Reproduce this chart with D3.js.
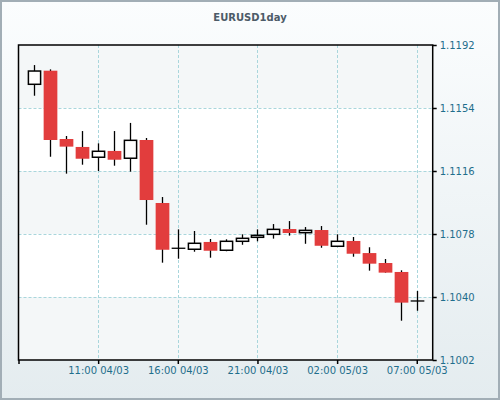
<!DOCTYPE html>
<html><head><meta charset="utf-8">
<script src="https://cdn.jsdelivr.net/npm/d3@7"></script>
<style>html,body{margin:0;padding:0;background:#fff;}svg{display:block;}</style>
</head><body>
<svg id="chart" width="500" height="400"></svg>
<script>
const title = "EURUSD1day";
const hours = ["2016-03-04T07:00","2016-03-04T08:00","2016-03-04T09:00","2016-03-04T10:00","2016-03-04T11:00",
  "2016-03-04T12:00","2016-03-04T13:00","2016-03-04T14:00","2016-03-04T15:00","2016-03-04T16:00",
  "2016-03-04T17:00","2016-03-04T18:00","2016-03-04T19:00","2016-03-04T20:00","2016-03-04T21:00",
  "2016-03-04T22:00","2016-03-04T23:00","2016-03-05T00:00","2016-03-05T01:00","2016-03-05T02:00",
  "2016-03-05T03:00","2016-03-05T04:00","2016-03-05T05:00","2016-03-05T06:00","2016-03-05T07:00"];
const open  = [1.11683,1.11765,1.11353,1.11305,1.11243,1.11281,1.11237,1.11347,1.10967,1.10694,
  1.10688,1.10732,1.10682,1.10736,1.10760,1.10778,1.10810,1.10788,1.10804,1.10706,
  1.10738,1.10665,1.10605,1.10551,1.10376];
const high  = [1.11799,1.11773,1.11371,1.11401,1.11327,1.11401,1.11450,1.11359,1.11003,1.10808,
  1.10798,1.10750,1.10748,1.10778,1.10808,1.10840,1.10858,1.10822,1.10828,1.10778,
  1.10762,1.10700,1.10629,1.10561,1.10436];
const low   = [1.11614,1.11246,1.11144,1.11198,1.11160,1.11192,1.11156,1.10836,1.10607,1.10631,
  1.10673,1.10637,1.10676,1.10715,1.10736,1.10752,1.10770,1.10721,1.10697,1.10702,
  1.10643,1.10559,1.10547,1.10257,1.10317];
const close = [1.11763,1.11347,1.11307,1.11234,1.11279,1.11228,1.11345,1.10985,1.10685,1.10694,
  1.10724,1.10679,1.10736,1.10754,1.10772,1.10808,1.10786,1.10802,1.10709,1.10736,
  1.10661,1.10601,1.10547,1.10366,1.10376];
const yTicks = [1.1002,1.1040,1.1078,1.1116,1.1154,1.1192];
const xTicks = ["2016-03-04T06:00","2016-03-04T11:00","2016-03-04T16:00","2016-03-04T21:00","2016-03-05T02:00","2016-03-05T07:00"];
const xDomain = ["2016-03-04T06:00","2016-03-05T08:00"];

const parse = s => new Date(s + ":00Z");
const data = hours.map((h,i)=>({t:parse(h),o:open[i],h:high[i],l:low[i],c:close[i]}));

const svg = d3.select("#chart");
const W=500,H=400;
const L=18.5, R=432.7, T=45, B=360;

const defs = svg.append("defs");
const g = defs.append("linearGradient").attr("id","bg").attr("x1",0).attr("y1",0).attr("x2",0).attr("y2",1);
g.append("stop").attr("offset","0%").attr("stop-color","#fbfdfe");
g.append("stop").attr("offset","100%").attr("stop-color","#e4ecef");
svg.append("rect").attr("x",1).attr("y",1).attr("width",W-2).attr("height",H-2)
  .attr("fill","url(#bg)").attr("stroke","#a2aeb6").attr("stroke-width",2);

svg.append("text").attr("x",250).attr("y",21).attr("text-anchor","middle")
  .attr("font-family","DejaVu Sans, Verdana, sans-serif").attr("font-weight","bold")
  .attr("font-size",10).attr("fill","#4d5b68").text(title);

const x = d3.scaleUtc().domain(xDomain.map(parse)).range([L,R]);
const y = d3.scaleLinear().domain([yTicks[0], yTicks[yTicks.length-1]]).range([B,T]);

// bands
const bandsG = svg.append("g");
for (let i=0;i<yTicks.length-1;i++){
  bandsG.append("rect").attr("x",L).attr("width",R-L)
    .attr("y",y(yTicks[i+1])).attr("height",y(yTicks[i])-y(yTicks[i+1]))
    .attr("fill", i%2===0 ? "#f4f7f8" : "#ffffff");
}
// grid
const grid = svg.append("g").attr("stroke","#a9d6dc").attr("stroke-width",1).attr("stroke-dasharray","3,2");
yTicks.slice(1,-1).forEach(v=>{
  grid.append("line").attr("x1",L).attr("x2",R).attr("y1",Math.round(y(v))+0.5).attr("y2",Math.round(y(v))+0.5);
});
xTicks.slice(1).forEach(s=>{
  const xx = Math.round(x(parse(s)))+0.5;
  grid.append("line").attr("x1",xx).attr("x2",xx).attr("y1",T).attr("y2",B);
});

// candles
const step = x(parse(hours[1])) - x(parse(hours[0]));
const bw = step*0.86;
const cg = svg.append("g");
data.forEach(d=>{
  const cx = Math.round(x(d.t))+0.5;
  const up = d.c >= d.o;
  cg.append("line").attr("x1",cx).attr("x2",cx).attr("y1",y(d.h)).attr("y2",y(d.l))
    .attr("stroke","#000").attr("stroke-width",1.3);
  const top = y(Math.max(d.o,d.c)), bot = y(Math.min(d.o,d.c));
  if (Math.abs(bot-top) < 0.5) {
    cg.append("line").attr("x1",cx-bw/2).attr("x2",cx+bw/2).attr("y1",top).attr("y2",top)
      .attr("stroke","#000").attr("stroke-width",1.3);
  } else if (up) {
    cg.append("rect").attr("x",cx-bw/2+0.75).attr("width",bw-1.5).attr("y",top).attr("height",bot-top)
      .attr("fill","#fff").attr("stroke","#000").attr("stroke-width",1.5);
  } else {
    cg.append("rect").attr("x",cx-bw/2).attr("width",bw).attr("y",top).attr("height",bot-top)
      .attr("fill","#e23d3d");
  }
});

// frame
svg.append("rect").attr("x",L).attr("y",T).attr("width",R-L).attr("height",B-T)
  .attr("fill","none").attr("stroke","#000").attr("stroke-width",1.5);

const fmt = d3.utcFormat("%H:%M %d/%m");
const xAxis = d3.axisBottom(x).tickValues(xTicks.map(parse))
  .tickFormat((d,i)=> i===0 ? "" : fmt(d)).tickSize(4).tickSizeOuter(0).tickPadding(3);
const xa = svg.append("g").attr("transform",`translate(0,${B})`).call(xAxis);
xa.select(".domain").remove();
const yAxis = d3.axisRight(y).tickValues(yTicks).tickFormat(d3.format(".4f")).tickSize(4).tickSizeOuter(0).tickPadding(3);
const ya = svg.append("g").attr("transform",`translate(${R},0)`).call(yAxis);
ya.select(".domain").remove();
[xa,ya].forEach(a=>{
  a.selectAll(".tick line").attr("stroke","#000").attr("stroke-width",1.5);
  a.selectAll(".tick text").attr("fill","#1f6e8c").attr("font-size",10)
    .attr("font-family","DejaVu Sans, Verdana, sans-serif");
});
</script>
</body></html>
